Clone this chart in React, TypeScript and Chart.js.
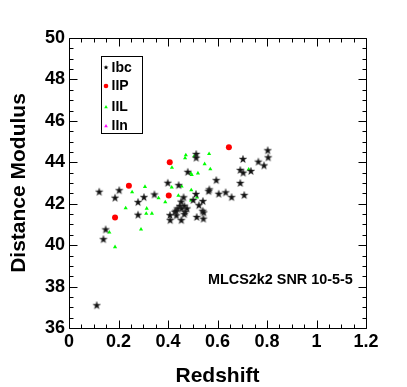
import React, { useEffect, useRef } from 'react';
import { Chart, registerables } from 'chart.js';

Chart.register(...registerables);

// ---- data ----
const ibcX = [0.112, 0.122, 0.203, 0.186, 0.279, 0.303, 0.345, 0.399, 0.279, 0.148, 0.139, 0.514, 0.514, 0.703, 0.803, 0.805, 0.765, 0.788, 0.692, 0.704, 0.735, 0.480, 0.443, 0.595, 0.692, 0.567, 0.564, 0.513, 0.605, 0.633, 0.657, 0.708, 0.463, 0.453, 0.502, 0.541, 0.525, 0.448, 0.466, 0.477, 0.455, 0.438, 0.540, 0.544, 0.469, 0.428, 0.408, 0.434, 0.466, 0.516, 0.543, 0.454, 0.409, 0.433];
const ibcY = [37.10, 42.58, 42.65, 42.29, 42.08, 42.32, 42.45, 43.01, 41.47, 40.76, 40.29, 44.40, 44.22, 44.16, 44.58, 44.24, 44.03, 43.85, 43.63, 43.50, 43.58, 43.54, 42.90, 43.14, 43.00, 42.69, 42.61, 42.47, 42.48, 42.55, 42.32, 42.42, 42.31, 42.10, 42.18, 42.13, 41.93, 41.89, 41.90, 41.77, 41.77, 41.77, 41.66, 41.58, 41.61, 41.61, 41.45, 41.44, 41.50, 41.36, 41.28, 41.21, 41.21, 41.66];

const iipX = [0.186, 0.242, 0.403, 0.407, 0.646];
const iipY = [41.34, 42.87, 42.40, 44.00, 44.72];

const iilX = [0.307, 0.255, 0.362, 0.389, 0.229, 0.314, 0.312, 0.335, 0.163, 0.186, 0.291, 0.472, 0.469, 0.506, 0.566, 0.416, 0.548, 0.571, 0.492, 0.496, 0.521, 0.455, 0.415, 0.494, 0.442, 0.493, 0.517, 0.726];
const iilY = [42.82, 42.56, 42.27, 42.08, 41.79, 41.77, 41.52, 41.53, 40.62, 39.91, 40.76, 44.35, 44.20, 44.30, 44.41, 43.74, 43.92, 43.67, 43.47, 43.39, 43.47, 42.84, 42.79, 42.66, 42.39, 42.16, 42.31, 43.66];

const iinX: number[] = [];
const iinY: number[] = [];

const xTickValues = [0, 0.2, 0.4, 0.6, 0.8, 1, 1.2];
const xTickLabels = ['0', '0.2', '0.4', '0.6', '0.8', '1', '1.2'];
const yTickValues = [36, 38, 40, 42, 44, 46, 48, 50];
const yTickLabels = ['36', '38', '40', '42', '44', '46', '48', '50'];

const legendLabels = ['Ibc', 'IIP', 'IIL', 'IIn'];
const annotationText = 'MLCS2k2 SNR 10-5-5';
const xTitle = 'Redshift';
const yTitle = 'Distance Modulus';

const FONT = "'Liberation Sans', Arial, Helvetica, sans-serif";

function toPoints(xs: number[], ys: number[]) {
  return xs.map((x, i) => ({ x, y: ys[i] }));
}

function starPath(ctx: CanvasRenderingContext2D, cx: number, cy: number, R: number, r: number) {
  ctx.beginPath();
  for (let i = 0; i < 10; i++) {
    const rad = i % 2 === 0 ? R : r;
    const ang = -Math.PI / 2 + (i * Math.PI) / 5;
    const px = cx + rad * Math.cos(ang);
    const py = cy + rad * Math.sin(ang);
    if (i === 0) ctx.moveTo(px, py);
    else ctx.lineTo(px, py);
  }
  ctx.closePath();
}

function makeStar(size: number, R: number, r: number, color: string) {
  const c = document.createElement('canvas');
  c.width = size;
  c.height = size;
  const g = c.getContext('2d')!;
  g.fillStyle = color;
  g.strokeStyle = 'rgba(60,60,60,0.6)';
  g.lineWidth = 0.8;
  starPath(g, size / 2, size / 2 + 0.3, R, r);
  g.fill();
  g.stroke();
  return c;
}

const framePlugin = {
  id: 'frameTicksLegend',
  afterDraw(chart: any) {
    const { ctx, chartArea: a, scales } = chart;
    const xs = scales.x;
    const ys = scales.y;
    ctx.save();
    ctx.strokeStyle = '#000';
    ctx.lineWidth = 1;
    const L = a.left + 0.5, R = a.right + 0.5, T = a.top + 0.5, B = a.bottom + 0.5;
    ctx.beginPath();
    ctx.rect(L, T, R - L, B - T);
    ctx.stroke();
    // inward ticks
    ctx.beginPath();
    for (let i = 0; i <= 24; i++) {
      const v = i * 0.05;
      const px = Math.round(xs.getPixelForValue(v)) + 0.5;
      const len = i % 4 === 0 ? 8 : 4;
      ctx.moveTo(px, B);
      ctx.lineTo(px, B - len);
      ctx.moveTo(px, T);
      ctx.lineTo(px, T + len);
    }
    for (let i = 0; i <= 28; i++) {
      const v = 36 + i * 0.5;
      const py = Math.round(ys.getPixelForValue(v)) + 0.5;
      const len = i % 4 === 0 ? 8 : 4;
      ctx.moveTo(L, py);
      ctx.lineTo(L + len, py);
      ctx.moveTo(R, py);
      ctx.lineTo(R - len, py);
    }
    ctx.stroke();

    // legend box
    const bx = 101.5, by = 56.5, bw = 41, bh = 77;
    ctx.fillStyle = '#fff';
    ctx.fillRect(bx, by, bw, bh);
    ctx.strokeRect(bx, by, bw, bh);
    const rowsY = [67.5, 86, 107, 126];
    const mx = 106;
    ctx.fillStyle = '#000';
    starPath(ctx, mx, rowsY[0], 2.6, 1.1);
    ctx.fill();
    ctx.fillStyle = '#ff0000';
    ctx.beginPath();
    ctx.arc(mx, rowsY[1], 2.3, 0, Math.PI * 2);
    ctx.fill();
    const tri = (cy: number, col: string) => {
      ctx.fillStyle = col;
      ctx.beginPath();
      ctx.moveTo(mx, cy - 2);
      ctx.lineTo(mx + 1.8, cy + 1.3);
      ctx.lineTo(mx - 1.8, cy + 1.3);
      ctx.closePath();
      ctx.fill();
    };
    tri(rowsY[2], '#00ff00');
    tri(rowsY[3], '#ff00ff');
    ctx.fillStyle = '#000';
    ctx.font = `bold 14px ${FONT}`;
    ctx.textAlign = 'left';
    ctx.textBaseline = 'middle';
    legendLabels.forEach((t, i) => ctx.fillText(t, 111.5, rowsY[i] + 0.5));

    // annotation
    ctx.font = `bold 14.4px ${FONT}`;
    ctx.textBaseline = 'middle';
    ctx.fillText(annotationText, 208, 280.5);
    ctx.restore();
  },
};

export default function App() {
  const ref = useRef<HTMLCanvasElement | null>(null);
  useEffect(() => {
    if (!ref.current) return;
    const starImg = makeStar(10, 3.9, 1.6, '#111');
    const chart = new Chart(ref.current, {
      type: 'scatter',
      data: {
        datasets: [
          {
            label: legendLabels[0],
            data: toPoints(ibcX, ibcY),
            pointStyle: starImg as any,
            pointRadius: 4,
            backgroundColor: '#000',
            borderColor: '#000',
          },
          {
            label: legendLabels[2],
            data: toPoints(iilX, iilY),
            pointStyle: 'triangle',
            pointRadius: 2.4,
            borderWidth: 0,
            backgroundColor: '#00ff00',
            borderColor: '#00ff00',
          },
          {
            label: legendLabels[1],
            data: toPoints(iipX, iipY),
            pointStyle: 'circle',
            pointRadius: 3,
            borderWidth: 0,
            backgroundColor: '#ff0000',
            borderColor: '#ff0000',
          },
          {
            label: legendLabels[3],
            data: toPoints(iinX, iinY),
            pointStyle: 'triangle',
            pointRadius: 2.4,
            borderWidth: 0,
            backgroundColor: '#ff00ff',
            borderColor: '#ff00ff',
          },
        ],
      },
      options: {
        animation: false,
        responsive: false,
        maintainAspectRatio: false,
        layout: { padding: { top: 38, right: 41, left: 0, bottom: 0 } },
        plugins: {
          legend: { display: false },
          tooltip: { enabled: false },
        },
        scales: {
          x: {
            type: 'linear',
            min: 0,
            max: 1.2,
            afterFit: (s: any) => { s.height = 59; },
            afterBuildTicks: (s: any) => { s.ticks = xTickValues.map((v) => ({ value: v })); },
            grid: { display: false, drawTicks: false },
            border: { display: false },
            ticks: {
              color: '#000',
              padding: 3,
              maxRotation: 0,
              autoSkip: false,
              font: { family: FONT, size: 18, weight: 'bold' },
              callback: (_v: any, i: number) => xTickLabels[i],
            },
            title: {
              display: true,
              text: xTitle,
              color: '#000',
              font: { family: FONT, size: 21, weight: 'bold', lineHeight: 1 },
              padding: { top: 0, bottom: 0 },
            },
          },
          y: {
            type: 'linear',
            min: 36,
            max: 50,
            afterFit: (s: any) => { s.width = 69; },
            afterBuildTicks: (s: any) => { s.ticks = yTickValues.map((v) => ({ value: v })); },
            grid: { display: false, drawTicks: false },
            border: { display: false },
            ticks: {
              color: '#000',
              padding: 4,
              autoSkip: false,
              font: { family: FONT, size: 18, weight: 'bold' },
              callback: (_v: any, i: number) => yTickLabels[i],
            },
            title: {
              display: true,
              text: yTitle,
              color: '#000',
              font: { family: FONT, size: 21, weight: 'bold', lineHeight: 1 },
              padding: { top: 9, bottom: 0 },
            },
          },
        },
      },
      plugins: [framePlugin],
    });
    return () => chart.destroy();
  }, []);
  return (
    <div style={{ position: 'fixed', left: 0, top: 0, width: 407, height: 387, background: '#fff' }}>
      <canvas ref={ref} width={407} height={387} style={{ display: 'block' }} />
    </div>
  );
}
